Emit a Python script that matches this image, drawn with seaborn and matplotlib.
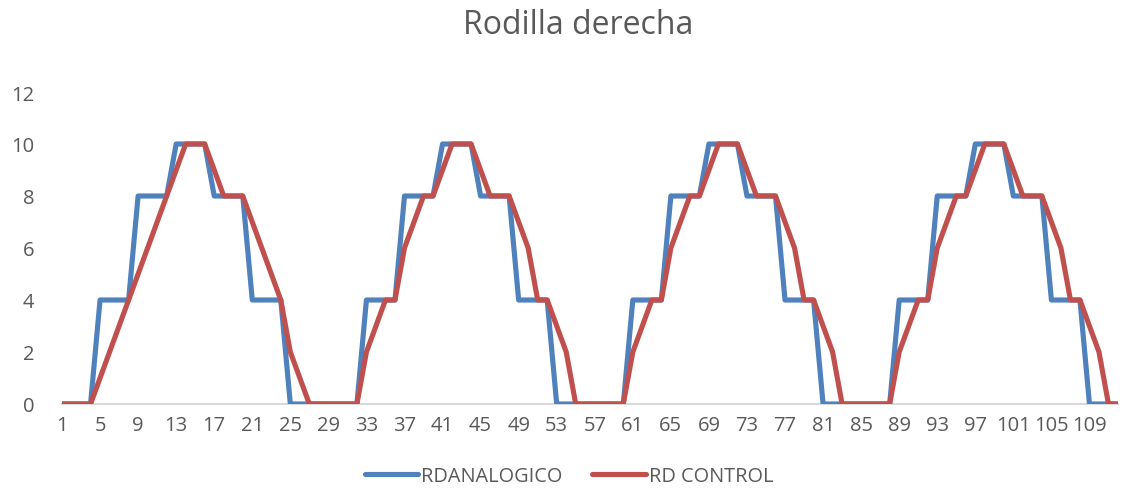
import matplotlib
matplotlib.use("Agg")
import matplotlib.pyplot as plt
import seaborn as sns
import pandas as pd
from matplotlib.lines import Line2D

categories = list(range(1, 113))

rd_analogico = [
    0, 0, 0, 0, 4, 4, 4, 4, 8, 8, 8, 8, 10, 10, 10, 10, 8, 8, 8, 8, 4, 4, 4, 4, 0, 0, 0, 0,
    0, 0, 0, 0, 4, 4, 4, 4, 8, 8, 8, 8, 10, 10, 10, 10, 8, 8, 8, 8, 4, 4, 4, 4, 0, 0, 0, 0,
    0, 0, 0, 0, 4, 4, 4, 4, 8, 8, 8, 8, 10, 10, 10, 10, 8, 8, 8, 8, 4, 4, 4, 4, 0, 0, 0, 0,
    0, 0, 0, 0, 4, 4, 4, 4, 8, 8, 8, 8, 10, 10, 10, 10, 8, 8, 8, 8, 4, 4, 4, 4, 0, 0, 0, 0,
]

rd_control = [
    0, 0, 0, 0, 1, 2, 3, 4, 5, 6, 7, 8, 9, 10, 10, 10, 9, 8, 8, 8, 7, 6, 5, 4, 2, 1, 0, 0,
    0, 0, 0, 0, 2, 3, 4, 4, 6, 7, 8, 8, 9, 10, 10, 10, 9, 8, 8, 8, 7, 6, 4, 4, 3, 2, 0, 0,
    0, 0, 0, 0, 2, 3, 4, 4, 6, 7, 8, 8, 9, 10, 10, 10, 9, 8, 8, 8, 7, 6, 4, 4, 3, 2, 0, 0,
    0, 0, 0, 0, 2, 3, 4, 4, 6, 7, 8, 8, 9, 10, 10, 10, 9, 8, 8, 8, 7, 6, 4, 4, 3, 2, 0, 0,
]

series_names = ["RDANALOGICO", "RD CONTROL"]
colors = ["#4F81BD", "#C0504D"]
title = "Rodilla derecha"
y_ticks = [0, 2, 4, 6, 8, 10, 12]
x_tick_labels = [str(c) for c in categories[::4]]

sns.set_theme(style="white")
plt.rcParams["font.family"] = ["Open Sans", "DejaVu Sans"]

df = pd.DataFrame({
    "pos": list(range(len(categories))) * 2,
    "value": rd_analogico + rd_control,
    "series": [series_names[0]] * len(categories) + [series_names[1]] * len(categories),
})

W, H = 1123, 489
fig = plt.figure(figsize=(W / 100, H / 100), dpi=100)
left_px, right_px, top_px, bottom_px = 62, 1118, 93, 405
ax = fig.add_axes([left_px / W, (H - bottom_px) / H,
                   (right_px - left_px) / W, (bottom_px - top_px) / H])

sns.lineplot(data=df, x="pos", y="value", hue="series", palette=colors,
             hue_order=series_names, linewidth=3.7, ax=ax, legend=False,
             estimator=None, sort=False)

ax.set_xlim(0, len(categories) - 1)
ax.set_ylim(0, 12)
ax.set_xticks(list(range(0, len(categories), 4)))
ax.set_xticklabels(x_tick_labels)
ax.set_yticks(y_ticks)
ax.set_yticklabels([str(v) for v in y_ticks])
ax.set_xlabel("")
ax.set_ylabel("")
for s in ["top", "right", "left"]:
    ax.spines[s].set_visible(False)
ax.spines["bottom"].set_color("#D9D9D9")
ax.spines["bottom"].set_linewidth(1.5)
ax.spines["bottom"].set_zorder(0)
ax.tick_params(axis="both", length=0, labelsize=14.5, colors="#595959")
ax.tick_params(axis="x", pad=8)
ax.tick_params(axis="y", pad=20)
ax.patch.set_alpha(0)

fig.text(578 / W, 1 - 26 / H, title, ha="center", va="center",
         fontsize=23, color="#595959")

handles = [Line2D([0], [0], color=c, linewidth=3.7) for c in colors]
fig.legend(handles, series_names, loc="center", bbox_to_anchor=(569 / W, 1 - 477 / H),
           ncol=2, frameon=False, fontsize=14.3, handlelength=2.7, handletextpad=0.15,
           columnspacing=1.5, labelcolor="#595959")

fig.savefig("out.png", dpi=100)
